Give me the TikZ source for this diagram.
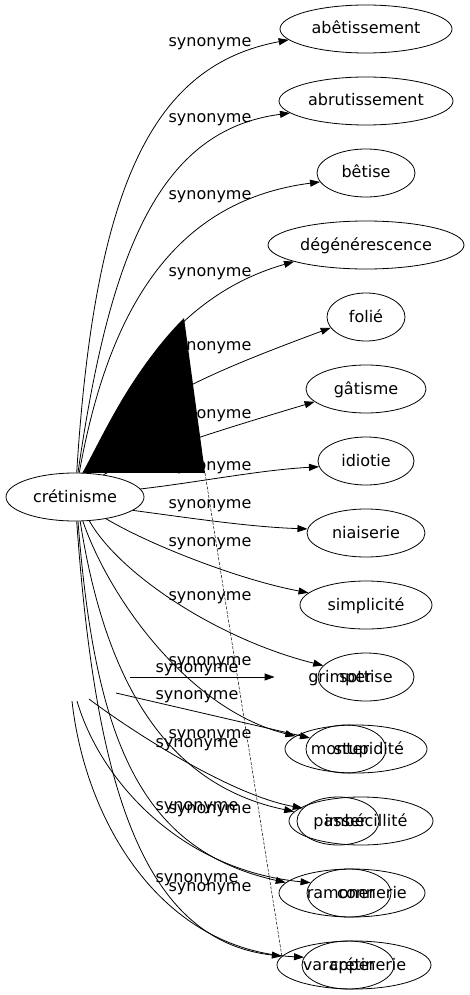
\documentclass[tikz,border=0pt]{standalone}
\usepackage{fontspec}
\setmainfont{DejaVu Sans}
\usetikzlibrary{arrows.meta,shapes.geometric}

\begin{document}
\begin{tikzpicture}[x=1pt,y=1pt,
  word/.style={draw,ellipse,line width=0.8pt,inner sep=0pt,minimum height=48pt,text height=13pt,text depth=3pt,font=\fontsize{16}{19}\selectfont},
  syn/.style={line width=0.8pt,-{Triangle[length=10pt,width=7pt]}},
  lbl/.style={inner sep=0pt,text height=13pt,text depth=3pt,font=\fontsize{16}{19}\selectfont}]

\useasboundingbox (0,0) rectangle (470,-995);

% centre word
\node[word,minimum width=138pt] (cretin) at (75,-497) {crétinisme};

% synonyms on the right
\node[word,minimum width=172pt] (abet) at (366,-29) {abêtissement};
\node[word,minimum width=174pt] (abrut) at (366,-101) {abrutissement};
\node[word,minimum width=98pt] (betise) at (366,-173) {bêtise};
\node[word,minimum width=196pt] (degen) at (366,-245) {dégénérescence};
\node[word,minimum width=78pt] (folie) at (366,-317) {folié};
\node[word,minimum width=120pt] (gatis) at (366,-389) {gâtisme};
\node[word,minimum width=96pt] (idiot) at (366,-461) {idiotie};
\node[word,minimum width=118pt] (niais) at (366,-533) {niaiserie};
\node[word,minimum width=132pt] (simpl) at (366,-605) {simplicité};
\node[word,minimum width=96pt] (sott) at (366,-677) {sottise};
\node[word,minimum width=142pt] (stup) at (356,-749) {};
\node[lbl] (stupt) at (369,-749) {stupidité};
\node[word,minimum width=144pt] (imbec) at (361,-821) {};
\node[lbl] (imbect) at (366,-821) {imbécillité};
\node[word,minimum width=146pt] (conn) at (352,-893) {};
\node[lbl] (connt) at (372,-893) {connerie};
\node[word,minimum width=154pt] (creterie) at (354,-965) {};
\node[lbl] (creteriet) at (368,-965) {crétinerie};

% the second set of words
\node[word,draw=none,minimum width=130pt] (grimp) at (340,-677) {grimper};
\node[word,minimum width=80pt] (mont) at (346,-749) {};
\node[lbl] (montt) at (340,-749) {monter};
\node[word,minimum width=82pt] (pass) at (338,-821) {};
\node[lbl] (passt) at (340,-821) {passer};
\node[word,minimum width=84pt] (ramon) at (349,-893) {};
\node[lbl] (ramont) at (341,-893) {ramoner};
\node[word,minimum width=92pt] (varap) at (348,-965) {};
\node[lbl] (varapt) at (339,-965) {varapper};

\coordinate (g1) at (130,-677);
\coordinate (g2) at (116,-693);
\coordinate (g3) at (89,-699);
\coordinate (g4) at (77,-701);
\coordinate (g5) at (72,-701);

% edges
\draw[syn] (cretin.86) .. controls (95,-180) and (155,-65) .. (abet.188);
\draw[syn] (cretin.83) .. controls (110,-250) and (160,-130) .. (abrut.189);
\draw[syn] (cretin.80) .. controls (110,-300) and (180,-200) .. (betise.191);
\draw[syn] (cretin.72) .. controls (115,-415) and (160,-300) .. (degen.193);
\draw[syn] (cretin.62) .. controls (125,-410) and (190,-380) .. (folie.197);
\draw[syn] (cretin.38) .. controls (140,-455) and (220,-430) .. (gatis.194);
\draw[syn] (cretin.7) .. controls (200,-482) and (260,-470) .. (idiot.187);
\draw[syn] (cretin.-13) .. controls (190,-518) and (250,-527) .. (niais.176);
\draw[syn] (cretin.-35) .. controls (150,-545) and (240,-580) .. (simpl.168);
\draw[syn] (cretin.-59) .. controls (120,-575) and (220,-640) .. (sott.165);
\draw[syn] (cretin.-72) .. controls (110,-600) and (190,-710) .. (stup.168);
\draw[syn] (cretin.-78) .. controls (105,-680) and (165,-785) .. (imbec.172);
\draw[syn] (cretin.-83) .. controls (95,-740) and (140,-850) .. (conn.171);
\draw[syn] (cretin.-86) .. controls (95,-780) and (140,-940) .. (creterie.173);

\draw[syn] (g1) -- (grimp.west);
\draw[syn] (g2) -- (mont.163);
\draw[syn] (g3) .. controls (130,-730) and (230,-795) .. (pass.160);
\draw[syn] (g4) .. controls (100,-780) and (180,-870) .. (ramon.165);
\draw[syn] (g5) .. controls (85,-820) and (160,-950) .. (varap.170);

% labels
\node[lbl] (l1) at (210,-42) {synonyme};
\node[lbl] (l2) at (210,-118) {synonyme};
\node[lbl] (l3) at (210,-195) {synonyme};
\node[lbl] (l4) at (210,-271) {synonyme};
\node[lbl] (l5) at (210,-345) {synonyme};
\node[lbl] (l6) at (210,-413) {synonyme};
\node[lbl] (l7) at (210,-465) {synonyme};
\node[lbl] (l8) at (210,-503) {synonyme};
\node[lbl] (l9) at (210,-541) {synonyme};
\node[lbl] (l10) at (210,-595) {synonyme};
\node[lbl] (l11) at (210,-660) {synonyme};
\node[lbl] (l12) at (210,-733) {synonyme};
\node[lbl] (l13) at (210,-808) {synonyme};
\node[lbl] (l14) at (210,-886) {synonyme};

\node[lbl] (m1) at (197,-667) {synonyme};
\node[lbl] (m2) at (197,-694) {synonyme};
\node[lbl] (m3) at (197,-742) {synonyme};
\node[lbl] (m4) at (197,-805) {synonyme};
\node[lbl] (m5) at (197,-877) {synonyme};

% black wedge and the thin dashed line
\coordinate (apex) at (184,-318);
\coordinate (base) at (205,-473);
\fill (cretin.72) .. controls (104,-435) and (132,-370) .. (apex) -- (base) -- cycle;
\draw[line width=0.5pt,dash pattern=on 3pt off 1.5pt] (base) -- (creterie.173);

\end{tikzpicture}
\end{document}
